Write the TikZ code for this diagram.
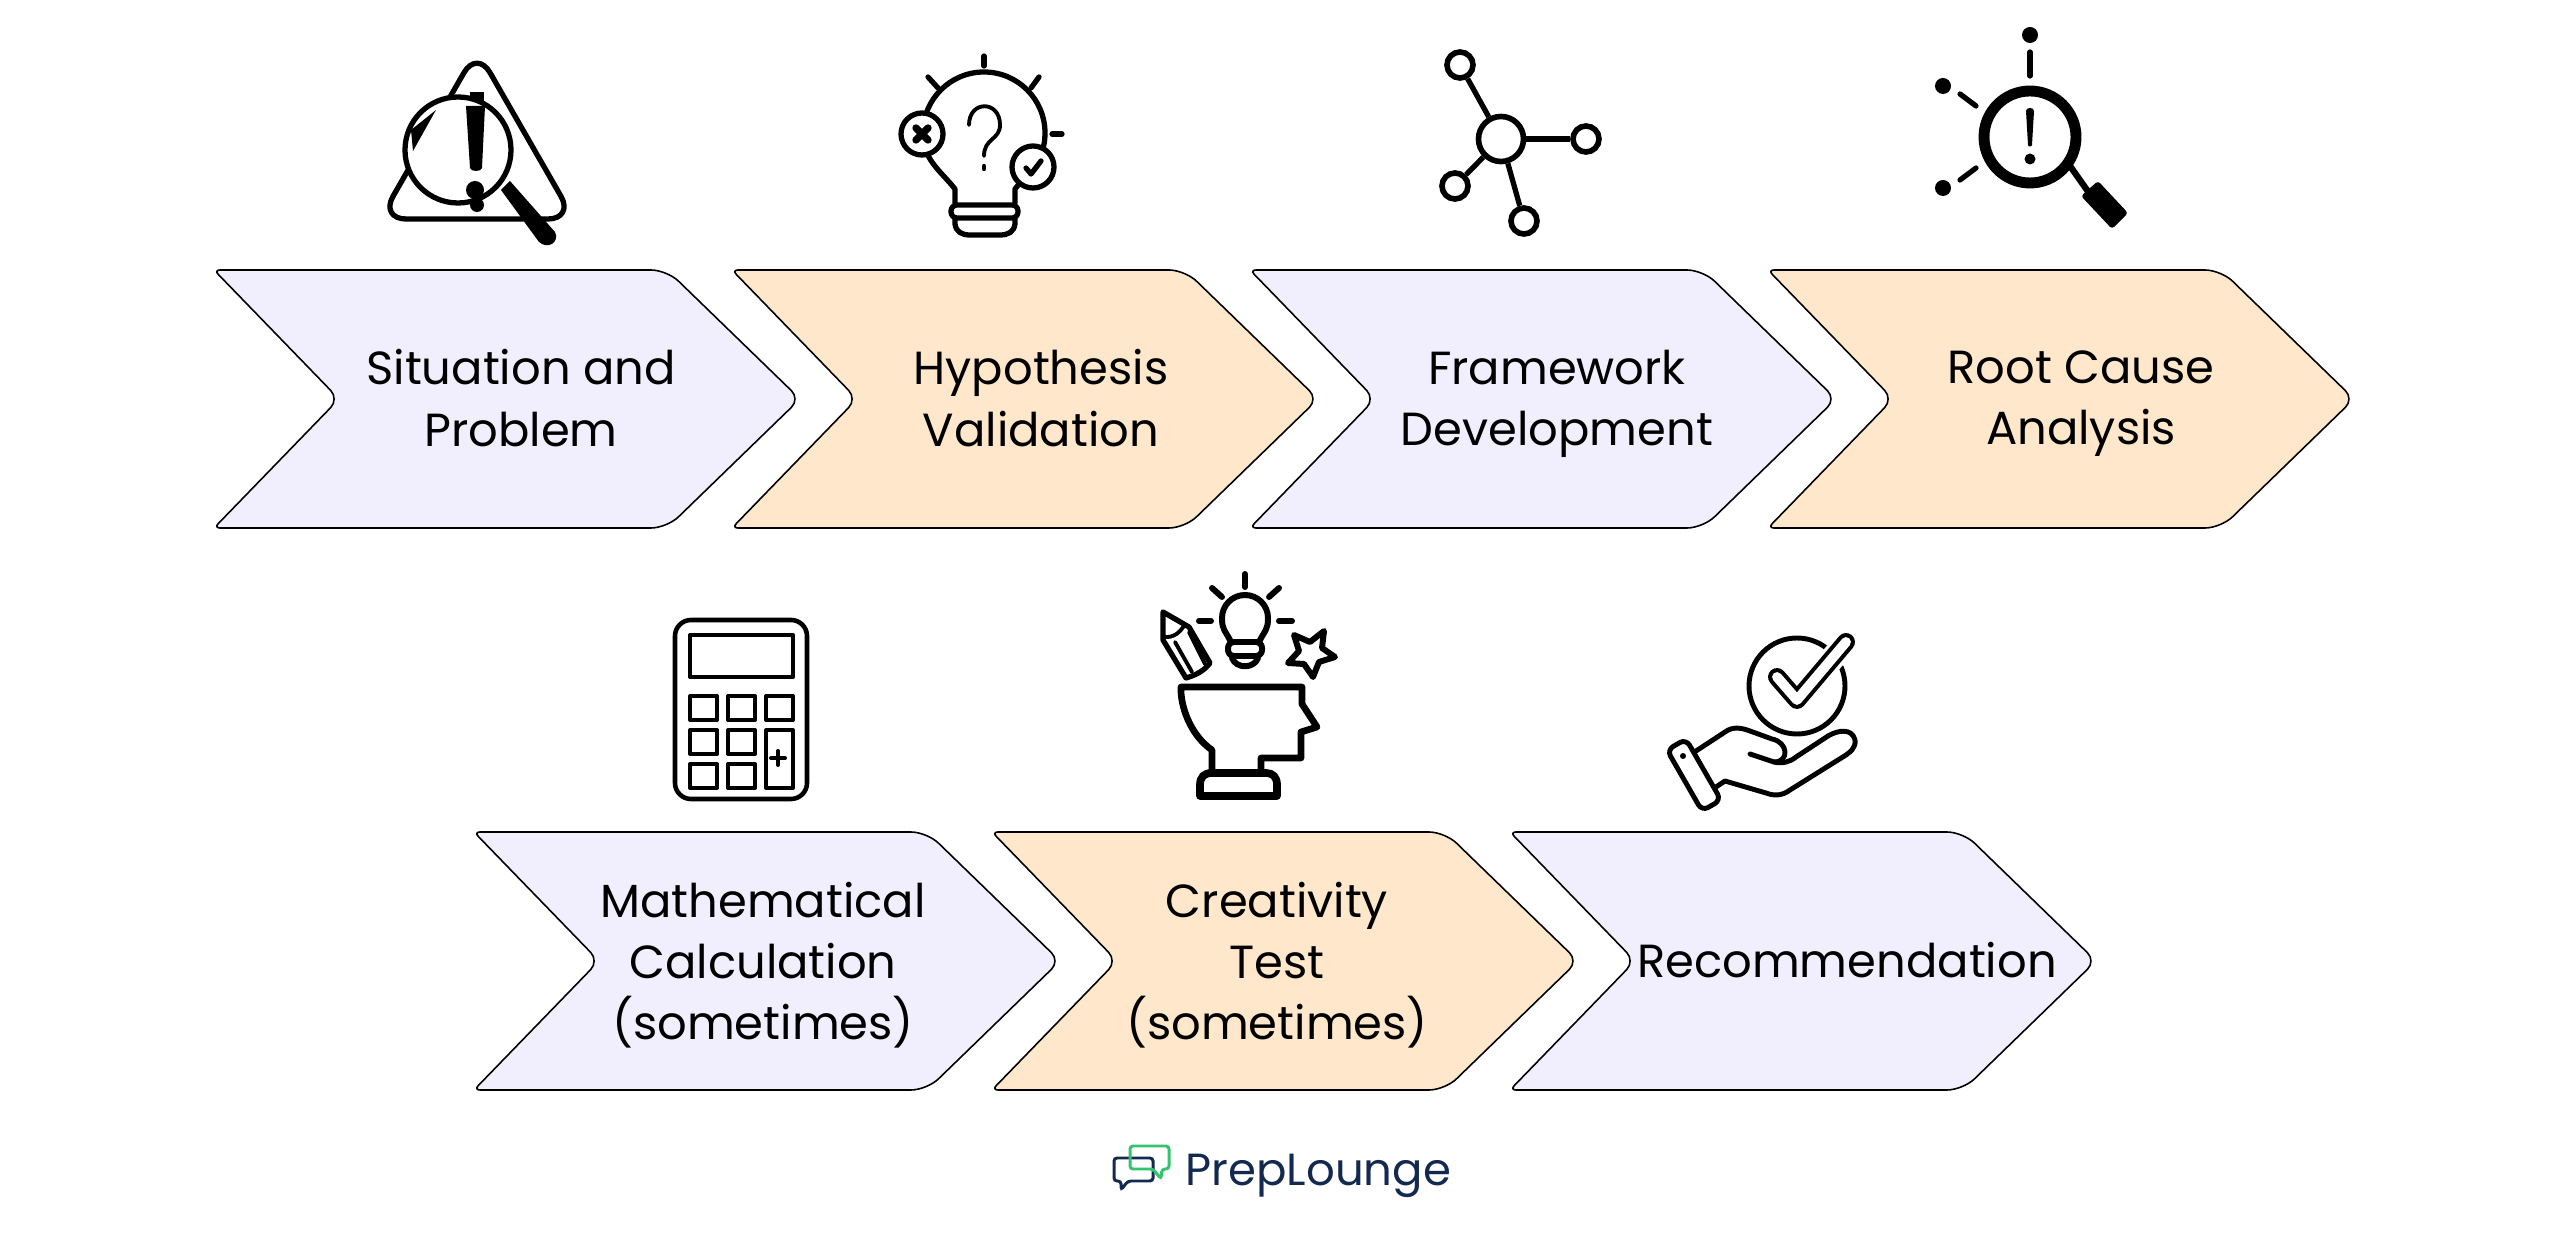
\documentclass[tikz,border=0pt]{standalone}
\usepackage{fontspec}
\setmainfont{Poppins}
\definecolor{lav}{HTML}{F1EFFD}
\definecolor{sand}{HTML}{FEE7CA}
\definecolor{navy}{HTML}{14294F}
\definecolor{mint}{HTML}{34C46E}

\begin{document}
\begin{tikzpicture}[x=0.01cm,y=-0.01cm,
chevron/.style = {draw=black,line width=0.45pt},
caption/.style = {align=center,inner sep=0pt,font=\fontsize{13.2}{17.4}\selectfont},
ink/.style = {draw=black,line width=1.5pt,line cap=round,line join=round},
thin ink/.style = {ink,line width=1.15pt},
thick ink/.style = {ink,line width=2.1pt},
blob/.style = {fill=black,draw=none},
hub/.style = {circle,draw=black,line width=1.6pt,inner sep=0pt,fill=white}]
\useasboundingbox (0,0) rectangle (2563,1234);

% arrows
\foreach \cx/\cy/\ctone in {211/270/lav,729/270/sand,1247/270/lav,1765/270/sand,471/832/lav,989/832/sand,1507/832/lav}
	\draw[chevron,fill=\ctone,shift={(\cx,\cy)},rounded corners=0.06cm] (3,0) [rounded corners=0.16cm] -- (456,0) [rounded corners=0.12cm] -- (589,129) [rounded corners=0.16cm] -- (456,258) [rounded corners=0.06cm] -- (3,258) [rounded corners=0.12cm] -- (128,129) [rounded corners=0.06cm] -- cycle;

\node[caption] (situation) at (521,398) {Situation and\\Problem};
\node[caption] (hypothesis) at (1041,398) {Hypothesis\\Validation};
\node[caption] (framework) at (1557,404) {Framework\\Development};
\node[caption] (rootcause) at (2081,404) {Root Cause\\Analysis};
\node[caption] (maths) at (763,965) {Mathematical\\Calculation\\(sometimes)};
\node[caption] (creative) at (1277,965) {Creativity\\Test\\(sometimes)};
\node[caption] (recommend) at (1847,960) {Recommendation};

% warning triangle and lens
\draw[ink,rounded corners=0.26cm] (477,50) -- (574,219) -- (380,219) -- cycle;
\draw[blob] (470,92) rectangle (484,112);
\draw[blob] (477,205) circle (7);
\draw[ink,fill=white] (458,150) circle (53);
\begin{scope}
	\clip (458,150) circle (51);
	\fill (436,110) -- (413,151) -- (411,130) -- cycle;
	\fill (466,106) -- (485,106) -- (482,168) .. controls (481,172) and (471,172) .. (470,168) -- cycle;
	\fill (475,190) circle (9);
\end{scope}
\fill (501,190) -- (510,181) -- (555,232) .. controls (560,242) and (548,250) .. (539,242) -- cycle;

% bulb with question
\draw[ink] (955,203) -- (955,189) .. controls (940,170) and (923,160) .. (923,133) arc[start angle=180,end angle=360,radius=61] .. controls (1045,160) and (1030,170) .. (1015,189) -- (1015,203);
\draw[ink,rounded corners=0.06cm] (951,205) rectangle (1018,218);
\draw[ink] (955,219) -- (955,224) .. controls (956,232) and (962,235) .. (970,235) -- (1000,235) .. controls (1008,235) and (1014,232) .. (1015,224) -- (1015,219);
\foreach \rx/\ry/\sx/\sy in {984/56/984/66,928/77/938/88,1039/77/1031/88,1052/134/1062/134}
	\draw[ink] (\rx,\ry) -- (\sx,\sy);
\draw[ink,line width=1.1pt] (969,125) .. controls (969,100) and (1000,100) .. (1000,125) .. controls (1000,140) and (984,138) .. (984,156);
\draw[ink,line width=1.2pt] (984,166) -- (984,169);
\draw[ink,fill=white] (922,134) circle (21);
\draw[ink,fill=white] (1033,167) circle (21);
\draw[thick ink] (916,128) -- (928,140) (928,128) -- (916,140);
\draw[ink] (1026,168) -- (1031,174) -- (1041,161);

% network
\node[hub,minimum size=0.45cm] (centre) at (1501,139) {};
\node[hub,minimum size=0.26cm] (upper) at (1460,65) {};
\node[hub,minimum size=0.26cm] (right) at (1586,139) {};
\node[hub,minimum size=0.26cm] (lower) at (1455,186) {};
\node[hub,minimum size=0.26cm] (under) at (1524,221) {};
\draw[ink,line cap=butt] (centre) -- (upper);
\draw[ink,line cap=butt] (centre) -- (right);
\draw[ink,line cap=butt] (centre) -- (lower);
\draw[ink,line cap=butt] (centre) -- (under);

% search with rays
\draw[draw=black,line width=3.1pt] (2030,137) circle (46);
\fill (2026,111) .. controls (2026,107) and (2034,107) .. (2034,111) -- (2032,145) .. controls (2032,147) and (2028,147) .. (2028,145) -- cycle;
\fill (2030,159) circle (5.5);
\fill (2030,35) circle (8);
\fill (1943,86) circle (8);
\fill (1943,188) circle (8);
\draw[ink] (2030,52) -- (2030,76);
\draw[ink] (1960,94) -- (1976,106);
\draw[ink] (1960,180) -- (1976,168);
\draw[ink,line width=1.8pt,line cap=butt] (2070,166) -- (2094,200);
\fill[rounded corners=0.03cm] (2098,181) -- (2128,213) -- (2112,229) -- (2081,196) -- cycle;

% calculator
\draw[ink,line width=1.3pt,rounded corners=0.16cm] (675,620) rectangle (807,799);
\draw[thin ink,line cap=butt] (690,635) rectangle (793,677);
\foreach \kx in {690,728,766}
	\draw[thin ink] (\kx,696) rectangle ++(27,24);
\foreach \kx in {690,728}
	\foreach \ky in {730,764}
		\draw[thin ink] (\kx,\ky) rectangle ++(27,24);
\draw[thin ink] (766,730) rectangle (793,788);
\draw[thin ink] (771,758) -- (785,758) (778,751) -- (778,765);

% head and idea
\draw[thick ink,line width=1.9pt] (1212,770) -- (1212,750) .. controls (1190,735) and (1180,705) .. (1181,687) -- (1302,687) -- (1302,704) -- (1317,727) -- (1301,732) -- (1301,758) -- (1261,758) -- (1261,770);
\draw[thick ink,line width=2.2pt] (1200,796) -- (1200,785) .. controls (1200,777) and (1204,773) .. (1212,773) -- (1266,773) .. controls (1273,773) and (1277,777) .. (1277,785) -- (1277,796) -- cycle;
\draw[ink,line width=1.7pt] (1231,642) .. controls (1225,630) and (1222,630) .. (1222,618) arc[start angle=180,end angle=360,radius=23] .. controls (1268,630) and (1265,630) .. (1259,642);
\draw[ink,line width=1.7pt,rounded corners=0.06cm] (1228,642) -- (1262,642) -- (1262,656) -- (1228,656) -- cycle;
\draw[ink,line width=1.7pt] (1232,658) .. controls (1236,669) and (1254,669) .. (1258,658);
\foreach \rx/\ry/\sx/\sy in {1245/574/1245/587,1212/588/1222/597,1279/588/1269/597,1199/621/1211/621,1279/621/1292/621}
	\draw[ink,line width=1.7pt] (\rx,\ry) -- (\sx,\sy);
\draw[ink,line width=1.5pt] (1163,612) -- (1189,627) -- (1210,663) .. controls (1204,671) and (1196,675) .. (1186,678) -- (1163,640) -- cycle;
\draw[ink,line width=1.1pt] (1164,637) .. controls (1174,638) and (1180,632) .. (1184,626) (1175,642) -- (1192,672) (1189,632) -- (1205,664);
\draw[ink,line width=1.7pt] (1324,631) -- (1322,648) -- (1335,657) -- (1319,662) -- (1313,677) -- (1304,664) -- (1288,663) -- (1299,651) -- (1294,635) -- (1310,642) -- cycle;

% hand with check
\draw[ink,line width=1.4pt] (1797,686) circle (48);
\draw[line width=7pt,white,line cap=butt] (1822,671) -- (1846,642);
\draw[line width=1.15pt,line cap=round,line join=round,black,double=white,double distance=2.8pt] (1777,677) -- (1797,700) -- (1846,642);
\draw[ink,line width=1.4pt,rounded corners=0.07cm] (1667,750) -- (1686,739) -- (1721,800) -- (1702,811) -- cycle;
\fill (1683,756) circle (3);
\draw[ink,line width=1.4pt] (1696,751) -- (1725,732) .. controls (1733,726) and (1742,728) .. (1750,731) -- (1772,739) .. controls (1788,742) and (1790,762) .. (1774,762) -- (1750,754);
\draw[ink,line width=1.4pt] (1774,762) .. controls (1782,764) and (1790,762) .. (1796,757) -- (1828,736) .. controls (1838,730) and (1852,728) .. (1855,740) .. controls (1856,748) and (1850,752) .. (1846,755) -- (1790,790) .. controls (1782,796) and (1774,796) .. (1766,793) -- (1725,781) -- (1716,787);

% logo
\draw[navy,line width=0.85pt,rounded corners=0.03cm] (1114,1158) -- (1153,1158) -- (1153,1181) -- (1128,1181) -- (1121,1190) -- (1121,1181) -- (1114,1181) -- cycle;
\draw[mint,line width=0.85pt,rounded corners=0.03cm] (1130,1146) -- (1169,1146) -- (1169,1169) -- (1162,1169) -- (1161,1179) -- (1153,1169) -- (1130,1169) -- cycle;
\node[inner sep=0pt,navy,anchor=base west,font=\fontsize{12.8}{15}\selectfont] (logo) at (1185,1185) {PrepLounge};
\end{tikzpicture}
\end{document}
